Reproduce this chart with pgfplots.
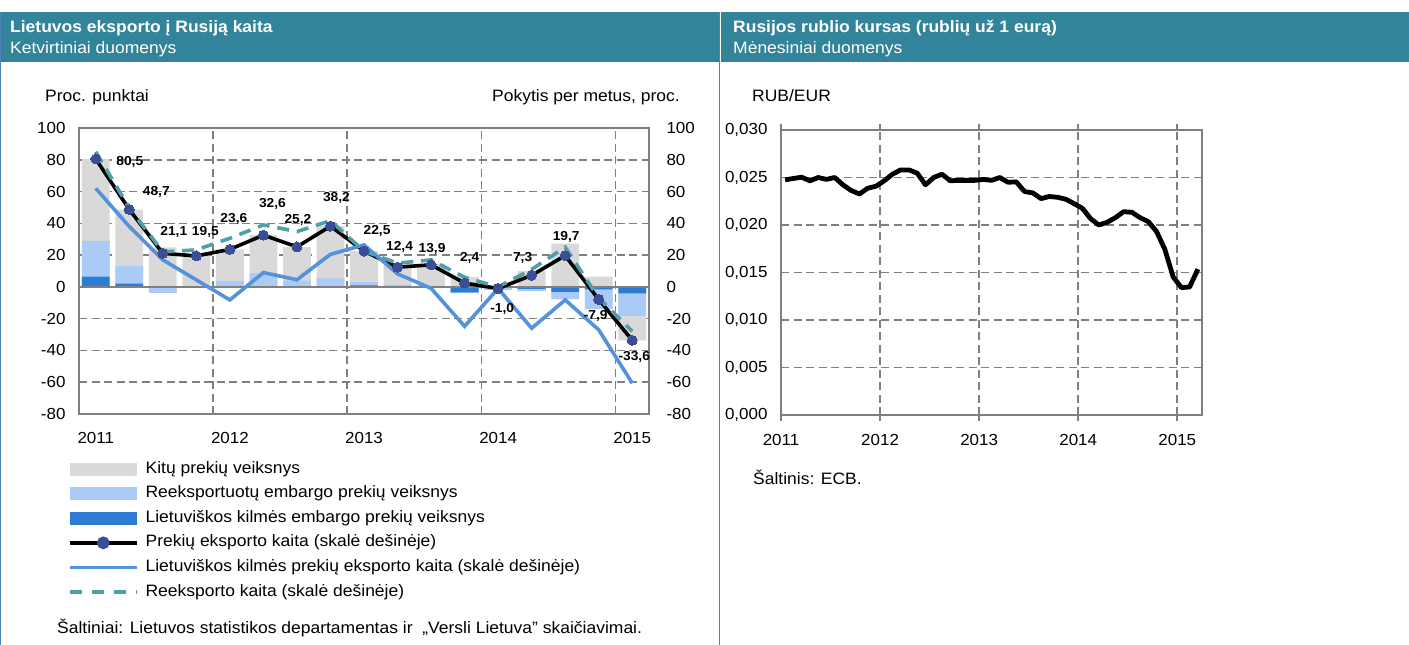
\documentclass[border=0pt]{standalone}
\usepackage{pgfplots}
\pgfplotsset{compat=1.18}
\usepackage{pgfplotstable}
\usepackage{fontspec}
\setmainfont{Liberation Sans}[FakeStretch=1.06]
\definecolor{hdr}{RGB}{50,132,155}
\definecolor{cgray}{RGB}{217,217,217}
\definecolor{clight}{RGB}{170,203,245}
\definecolor{cdark}{RGB}{44,124,212}
\definecolor{cblue}{RGB}{84,146,220}
\definecolor{cteal}{RGB}{78,160,168}
\definecolor{cnavy}{RGB}{58,78,150}
\definecolor{cgrid}{RGB}{128,128,128}
\definecolor{cborder}{RGB}{80,128,190}

\pgfplotstableread{
i dp lp gp dn ln gn
0 6.5 22.5 51.5 0 0 0
1 2 11 35.7 0 0 0
2 0 0 24.8 0 -3.7 0
3 0 0 19.5 0 0 0
4 0 3.8 19.8 0 0 0
5 0.3 8.2 24.1 0 0 0
6 0.5 3.5 21 0 0 0
7 0.3 5 32.9 0 0 0
8 1 2 19.5 0 0 0
9 0.5 1 12.5 0 0 0
10 0 0.5 14 0 0 0
11 0 0 6.3 -3.5 -0.4 0
12 0 0 0.8 -0.3 -1.5 0
13 0 0 10 -1.2 -1.5 0
14 0 0 27.2 -3.1 -4.6 0
15 0 0 6.4 -1.5 -12.5 0
16 0 0 0 -4 -14.2 -15.4
}\bars

\pgfplotstableread{
i ex lt re dx dy
0 80.5 62 85 34 -3
1 48.7 38 49.7 27 18
2 21.1 17 22 11 21
3 19.5 4.4 23.3 9 24
4 23.6 -8.2 30.6 4 30
5 32.6 9 39 9 31
6 25.2 4.5 34.8 1 27
7 38.2 20.5 41.7 6 28
8 22.5 26.4 22.5 13 20
9 12.4 8.2 14.9 2 20
10 13.9 -0.9 17 1 16
11 2.4 -24.8 6 5 25
12 -1.0 -1 0 4 -20
13 7.3 -26 11 -9 17
14 19.7 -8.2 25 1 19
15 -7.9 -27 -7 -3 -17
16 -33.6 -60.6 -28 2 -17
}\lines

% t = months since January 2011 (0 = Jan 2011), rate in euro per rouble
\pgfplotstableread{
t rub
0 0.02475
1 0.02490
2 0.02503
3 0.02465
4 0.02500
5 0.02480
6 0.02500
7 0.02423
8 0.02363
9 0.02327
10 0.02387
11 0.02408
12 0.02465
13 0.02535
14 0.02580
15 0.02580
16 0.02546
17 0.02423
18 0.02500
19 0.02535
20 0.02465
21 0.02470
22 0.02470
23 0.02470
24 0.02480
25 0.02470
26 0.02500
27 0.02450
28 0.02454
29 0.02352
30 0.02338
31 0.02278
32 0.02300
33 0.02292
34 0.02271
35 0.02225
36 0.02176
37 0.02067
38 0.02000
39 0.02028
40 0.02077
41 0.02140
42 0.02134
43 0.02077
44 0.02035
45 0.01930
46 0.01743
47 0.01454
48 0.01341
49 0.01348
50 0.01535
}\rub

\newcommand\fs{\fontsize{16.5bp}{19bp}\selectfont}
\newcommand\ft{\fontsize{16bp}{19bp}\selectfont}

\tikzset{
  mygrid/.style={dash pattern=on 8bp off 4.5bp, draw=cgrid, line width=1.6bp},
}

\begin{document}
\begin{tikzpicture}[x=1bp,y=1bp]
\path[use as bounding box, fill=white] (0,0) rectangle (1409,-645);
\fill[hdr] (0,-12) rectangle (719,-62);
\fill[hdr] (721,-12) rectangle (1409,-62);
\draw[cborder, line width=1.2bp] (0.6,-12) -- (0.6,-645);
\draw[cborder, line width=1.2bp] (719.5,-12) -- (719.5,-645);

\node[anchor=base west, text=white, inner sep=0pt, font=\fontsize{16.5bp}{18bp}\selectfont\bfseries] at (10,-33) {Lietuvos eksporto į Rusiją kaita};
\node[anchor=base west, text=white, inner sep=0pt, font=\fontsize{16.5bp}{18bp}\selectfont] at (10,-54) {Ketvirtiniai duomenys};
\node[anchor=base west, text=white, inner sep=0pt, font=\fontsize{16.5bp}{18bp}\selectfont\bfseries] at (733,-33) {Rusijos rublio kursas (rublių už 1 eurą)};
\node[anchor=base west, text=white, inner sep=0pt, font=\fontsize{16.5bp}{18bp}\selectfont] at (733,-54) {Mėnesiniai duomenys};

\node[anchor=base west, inner sep=0pt, font=\fs] at (45,-102) {Proc. punktai};
\node[anchor=base east, inner sep=0pt, font=\fs] at (680,-102) {Pokytis per metus, proc.};
\node[anchor=base west, inner sep=0pt, font=\fs] at (752,-102) {RUB/EUR};
\node[anchor=base west, inner sep=0pt, font=\fs] at (753,-484) {Šaltinis: ECB.};
\node[anchor=base west, inner sep=0pt, font=\fs] at (57,-633) {Šaltiniai: Lietuvos statistikos departamentas ir\ \ „Versli Lietuva" skaičiavimai.};

% ---------- left chart ----------
\begin{axis}[
  at={(79bp,-414bp)}, anchor=south west, width=570bp, height=286bp, scale only axis,
  xmin=-0.5, xmax=16.5, ymin=-80, ymax=100,
  xtick={0,4,8,12,16}, xticklabels={2011,2012,2013,2014,2015},
  extra x ticks={3.5,7.5,11.5,15.5}, extra x tick labels={},
  extra x tick style={grid=major, major grid style={mygrid}},
  ytick={-80,-60,-40,-20,0,20,40,60,80,100},
  ymajorgrids, major grid style={mygrid},
  axis line style={draw=cgrid, line width=1.6bp},
  major tick length=0pt,
  tick label style={font=\ft},
  /pgf/number format/assume math mode=true,
  xticklabel style={yshift=-15bp},
  yticklabel style={xshift=-10bp},
  legend style={at={(-0.0193,-0.1645)}, anchor=north west, draw=none, fill=none,
    inner sep=0pt, outer sep=0pt, cells={anchor=west}, font=\fs,
    nodes={inner sep=0pt, text height=12bp, text depth=4bp},
    row sep=8.6bp, column sep=7bp},
]
\addplot[ybar, bar width=0.83, bar shift=0pt, fill=cgray, draw=none,
  legend image code/.code={\fill[cgray] (0bp,-6.5bp) rectangle (67bp,6.5bp);}]
  table[x=i, y expr=\thisrow{dp}+\thisrow{lp}+\thisrow{gp}] {\bars};
\addlegendentry{Kitų prekių veiksnys}
\addplot[ybar, bar width=0.83, bar shift=0pt, fill=clight, draw=none,
  legend image code/.code={\fill[clight] (0bp,-6.5bp) rectangle (67bp,6.5bp);}]
  table[x=i, y expr=\thisrow{dp}+\thisrow{lp}] {\bars};
\addlegendentry{Reeksportuotų embargo prekių veiksnys}
\addplot[ybar, bar width=0.83, bar shift=0pt, fill=cdark, draw=none,
  legend image code/.code={\fill[cdark] (0bp,-6.5bp) rectangle (67bp,6.5bp);}]
  table[x=i, y=dp] {\bars};
\addlegendentry{Lietuviškos kilmės embargo prekių veiksnys}
\addplot[ybar, bar width=0.83, bar shift=0pt, fill=cgray, draw=none, forget plot]
  table[x=i, y expr=\thisrow{dn}+\thisrow{ln}+\thisrow{gn}] {\bars};
\addplot[ybar, bar width=0.83, bar shift=0pt, fill=clight, draw=none, forget plot]
  table[x=i, y expr=\thisrow{dn}+\thisrow{ln}] {\bars};
\addplot[ybar, bar width=0.83, bar shift=0pt, fill=cdark, draw=none, forget plot]
  table[x=i, y=dn] {\bars};
\draw[cgrid, line width=1.6bp] (axis cs:-0.5,0) -- (axis cs:16.5,0);

\addplot[black, line width=3.6bp, sharp plot, mark=*, mark size=5bp,
  mark options={draw=cnavy, fill=cnavy, solid, line width=0pt},
  legend image code/.code={\draw[black, line width=3.6bp] (0bp,0bp) -- (67bp,0bp);
     \fill[cnavy] (33.5bp,0bp) circle (4.5bp);}]
  table[x=i, y=ex] {\lines};
\addlegendentry{Prekių eksporto kaita (skalė dešinėje)}
\addplot[cblue, line width=3.6bp, sharp plot, mark=none,
  legend image code/.code={\draw[cblue, line width=3.6bp] (0bp,0bp) -- (67bp,0bp);}]
  table[x=i, y=lt] {\lines};
\addlegendentry{Lietuviškos kilmės prekių eksporto kaita (skalė dešinėje)}
\addplot[cteal, line width=3.6bp, sharp plot, mark=none, dash pattern=on 12bp off 8bp,
  legend image code/.code={\draw[cteal, line width=3.6bp, dash pattern=on 12bp off 10bp] (0bp,0bp) -- (67bp,0bp);}]
  table[x=i, y=re] {\lines};
\addlegendentry{Reeksporto kaita (skalė dešinėje)}
\addplot[draw=none, mark=none, forget plot, nodes near coords, point meta=explicit,
  visualization depends on={\thisrow{dx} \as \dx},
  visualization depends on={\thisrow{dy} \as \dy},
  every node near coord/.append style={anchor=center, inner sep=0pt,
    font=\fontsize{13bp}{15bp}\selectfont\bfseries,
    xshift=\dx*1bp, yshift=\dy*1bp,
    /pgf/number format/fixed, /pgf/number format/fixed zerofill,
    /pgf/number format/precision=1, /pgf/number format/use comma,
    /pgf/number format/assume math mode=true}]
  table[x=i, y=ex, meta=ex] {\lines};
\end{axis}

\begin{axis}[
  at={(79bp,-414bp)}, anchor=south west, width=570bp, height=286bp, scale only axis,
  xmin=-0.5, xmax=16.5, ymin=-80, ymax=100,
  hide x axis, axis y line*=right, axis line style={draw=none},
  ytick={-80,-60,-40,-20,0,20,40,60,80,100},
  major tick length=0pt,
  tick label style={font=\ft},
  /pgf/number format/assume math mode=true,
  yticklabel style={xshift=14bp},
]
\end{axis}

% ---------- right chart ----------
\begin{axis}[
  at={(781bp,-415bp)}, anchor=south west, width=421bp, height=285bp, scale only axis,
  xmin=-0.5, xmax=50.5, ymin=0, ymax=0.03,
  xtick={-0.5,11.5,23.5,35.5,47.5}, xticklabels={2011,2012,2013,2014,2015},
  ytick={0,0.005,0.01,0.015,0.02,0.025,0.03},
  yticklabels={{0,000},{0,005},{0,010},{0,015},{0,020},{0,025},{0,030}},
  xmajorgrids, ymajorgrids, major grid style={mygrid},
  axis line style={draw=cgrid, line width=1.6bp},
  tick align=outside, major tick length=6bp,
  xtick style={draw=cgrid, line width=1.6bp},
  ytick style={draw=none},
  scaled y ticks=false,
  tick label style={font=\ft},
  xticklabel style={yshift=-10bp},
  yticklabel style={xshift=-4bp},
]
\addplot[black, line width=4.8bp, line join=round, mark=none] table[x=t, y=rub] {\rub};
\end{axis}
\end{tikzpicture}
\end{document}
